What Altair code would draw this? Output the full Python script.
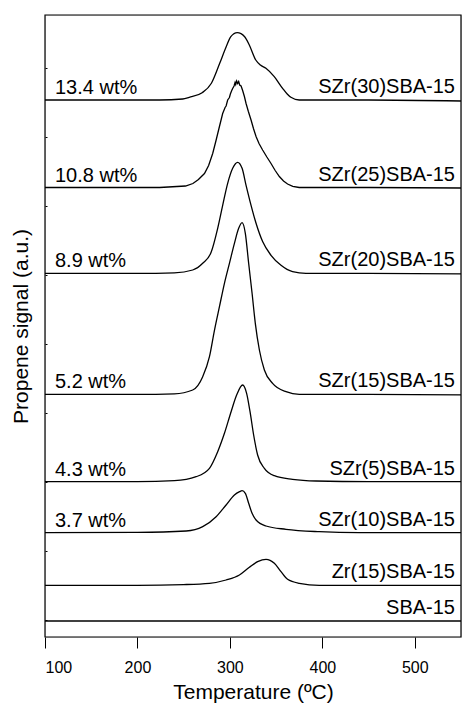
import altair as alt
import pandas as pd

# ---- data (temperature in ºC, signal in a.u.) ----
series_names = ["SZr(30)SBA-15", "SZr(25)SBA-15", "SZr(20)SBA-15", "SZr(15)SBA-15",
                "SZr(5)SBA-15", "SZr(10)SBA-15", "Zr(15)SBA-15", "SBA-15"]
left_labels = ["13.4 wt%", "10.8 wt%", "8.9 wt%", "5.2 wt%", "4.3 wt%", "3.7 wt%", "", ""]
offsets = [537, 449.5, 363.7, 242.7, 155.3, 104.3, 51.7, 16]

t_szr30 = [100, 200, 224, 249, 256, 270, 280, 289, 296, 301, 308, 316, 321, 328, 333, 339, 348, 357, 362, 366, 375, 450, 550]
s_szr30 = [0, 0, 0, 1, 2.7, 7.3, 16.7, 36.7, 53.3, 63.3, 67.3, 63.3, 55, 40, 35, 31.7, 23.3, 11.7, 6, 2.7, 0, 0, -1]

t_szr25 = [100, 200, 224, 252, 260, 266, 272.5, 277, 281.4, 285, 288.7, 292.2, 294.8, 295.9, 297.6, 299.5, 300.5, 302.0, 303.0,
           304.5, 305.6, 306.3, 307.3, 308.4, 309.5, 310.6, 312.1, 313.8, 315.7, 317.5, 320, 322.9, 325.5, 328.3, 331.5, 335.4,
           340, 344.5, 349, 353.5, 358, 362.4, 368, 375, 450, 550]
s_szr25 = [0, 0, 0, 1.5, 4, 8, 14, 22, 34, 47, 61, 74, 80, 81.5, 87.5, 90, 93.5, 97, 99,
           101.5, 105, 103, 106.5, 104, 106, 102.5, 101.5, 97, 91, 84, 76, 67.5, 59, 51, 44, 37.5,
           30.5, 24, 17, 11, 6.5, 3.5, 1.2, 0, 0, -0.5]

t_szr20 = [100, 200, 240, 259.8, 270.6, 279.7, 286.8, 292.2, 297.6, 303.0, 308.4, 313.2, 317.5, 322.9, 328.3, 335.4, 344.5, 355.3, 367.8, 382.3, 450, 550]
s_szr20 = [0, 0, 0.5, 3.3, 10, 21, 45, 68, 90, 105, 111, 105, 88, 68, 50, 31.7, 18, 8, 1.7, 0, 0, -0.5]

t_szr15 = [100, 200, 240, 259.8, 270.6, 277.9, 283.3, 288.7, 294.1, 299.5, 304.9, 309.5, 313.2, 316.7, 320.3, 324.0, 327.5, 331.9, 337.3, 346.2, 360.7, 375.1, 450, 550]
s_szr15 = [0, 0, 0.5, 4.3, 17.6, 37.6, 64, 87.6, 111, 131, 151, 166, 171.6, 161, 131, 101, 71, 44.3, 24.3, 11, 2.6, 0, 0, -0.5]

t_szr5 = [100, 200, 240, 263.5, 277.9, 286.8, 294.1, 301.3, 307.3, 313.8, 318.1, 321.8, 325.7, 330.0, 337.3, 348.1, 367.8, 393.1, 450, 550]
s_szr5 = [0, 0, 1, 5, 13.4, 30, 48.4, 70, 86.7, 96.7, 88.4, 70, 46.7, 26.7, 13.4, 6, 2.4, 0.7, 0, 0]

t_szr10 = [100, 200, 252.7, 270.6, 285.1, 295.9, 304.9, 310.5, 313.2, 316.7, 320.3, 324.0, 328.3, 339.1, 360.7, 396.7, 439.8, 550]
s_szr10 = [0, 0.3, 1.7, 6, 16, 27.7, 37.7, 41, 42, 39.4, 29.4, 19.4, 12.7, 6.7, 3.4, 1, 0, 0]

t_zr15 = [100, 200, 250, 277.9, 295.9, 310.3, 321.1, 330.0, 339.1, 348.1, 355.3, 362.4, 375.1, 396.7, 450, 550]
s_zr15 = [0, 0, 0.7, 2, 5.3, 10.3, 18, 23.6, 26, 22, 13.6, 6, 2, 0, 0, 0]

t_sba = [100, 250, 400, 550]
s_sba = [0, 0, 0, 0]

x_ticks = [100, 200, 300, 400, 500]
y_ticks = [17, 51.5, 86, 120.5, 155, 189.5, 224, 258.5, 293, 327.5, 362, 396.5, 431, 465.5, 500, 534.5, 569, 603.5]

# ---- build tables ----
curves = [(t_szr30, s_szr30), (t_szr25, s_szr25), (t_szr20, s_szr20), (t_szr15, s_szr15),
          (t_szr5, s_szr5), (t_szr10, s_szr10), (t_zr15, s_zr15), (t_sba, s_sba)]
rows = []
for name, off, (ts, ss) in zip(series_names, offsets, curves):
    for i, (t, s) in enumerate(zip(ts, ss)):
        rows.append({"series": name, "T": t, "y": off + s, "order": i})
df = pd.DataFrame(rows)
lab = pd.DataFrame({"series": series_names, "left": left_labels, "y": offsets})

FONT = "Liberation Sans"

x_enc = alt.X("T:Q", scale=alt.Scale(domain=[100, 550], nice=False, zero=False),
              axis=alt.Axis(values=x_ticks, tickSize=11, tickColor="black", tickWidth=1,
                            domain=False, grid=False, labelFontSize=16, labelColor="black",
                            labelPadding=11, labelFont=FONT,
                            title="Temperature (ºC)", titleFontSize=21, titleFont=FONT,
                            titleFontWeight="normal", titleColor="black", titlePadding=6))
y_enc = alt.Y("y:Q", scale=alt.Scale(domain=[0, 622], nice=False, zero=False),
              axis=alt.Axis(values=y_ticks, labels=False, domain=False, grid=False,
                            tickSize=2, offset=-2, tickColor="black",
                            title="Propene signal (a.u.)", titleFontSize=21, titleFont=FONT,
                            titleFontWeight="normal", titleColor="black", titlePadding=13))

smooth = alt.Chart(df).transform_filter(alt.datum.series != "SZr(25)SBA-15").mark_line(
    color="black", strokeWidth=1.3, interpolate="monotone").encode(
    x=x_enc, y=y_enc, detail="series:N", order="order:Q")
noisy = alt.Chart(df).transform_filter(alt.datum.series == "SZr(25)SBA-15").mark_line(
    color="black", strokeWidth=1.3, interpolate="linear").encode(
    x="T:Q", y="y:Q", detail="series:N", order="order:Q")

# plot frame (box around the plotting area)
frame = alt.Chart(pd.DataFrame({"f": [0]})).mark_rect(
    fill=None, stroke="black", strokeWidth=1.2).encode(
    x=alt.value(0), x2=alt.value("width"), y=alt.value(0), y2=alt.value("height"))

right_text = alt.Chart(lab).mark_text(align="right", baseline="alphabetic", dy=-7,
                                      fontSize=20, font=FONT, color="black").encode(
    x=alt.value(410), y=alt.Y("y:Q"), text="series:N")
left_text = alt.Chart(lab).mark_text(align="left", baseline="alphabetic", dy=-6,
                                     fontSize=20, font=FONT, color="black").encode(
    x=alt.value(10), y=alt.Y("y:Q"), text="left:N")

chart = alt.layer(smooth, noisy, frame, right_text, left_text).properties(
    width=416, height=622,
    autosize=alt.AutoSizeParams(type="none"),
    padding={"left": 45, "top": 15, "right": 1, "bottom": 67},
).configure_view(strokeWidth=0).configure(background="white")

chart.save("out.html", embed_options={"renderer": "svg", "actions": False})
